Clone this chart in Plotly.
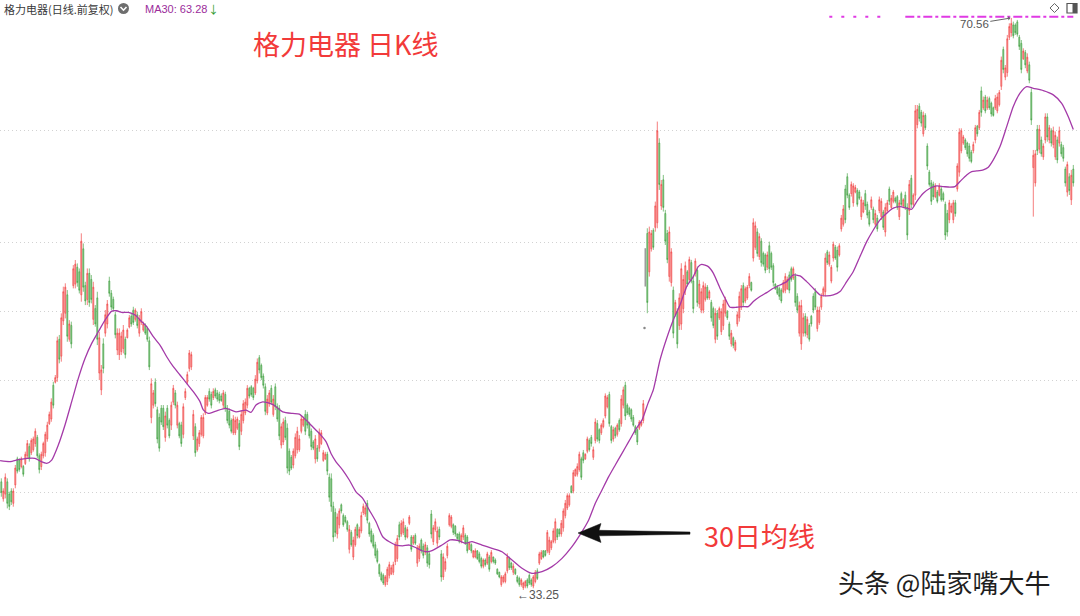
import plotly.graph_objects as go

W, H = 1080, 616
CJK = "Noto Sans CJK SC"
LAT = "Liberation Sans, Noto Sans CJK SC"

# ---------------- daily candles (前复权) ----------------
opens = [
    40.3, 39.2, 39.5, 40.3, 39.5, 39.7, 38.9, 40.1, 41.8, 41.7,
    41.3, 41.3, 41.5, 42.0, 42.6, 42.2, 42.4, 42.8, 43.2, 42.0,
    41.3, 42.0, 42.2, 43.1, 44.1, 44.4, 46.6, 46.8, 47.1, 49.6,
    48.5, 50.8, 51.3, 52.5, 49.6, 50.5, 53.1, 53.2, 54.3, 54.0,
    52.5, 55.5, 53.1, 52.2, 53.9, 53.5, 50.9, 51.6, 52.3, 47.4,
    46.3, 49.3, 50.0, 50.6, 53.4, 52.6, 52.2, 51.2, 48.9, 48.6,
    48.8, 49.0, 49.6, 49.7, 50.4, 51.1, 51.5, 50.9, 51.2, 50.0,
    50.7, 50.2, 50.5, 50.3, 49.5, 44.5, 45.3, 46.8, 45.0, 44.5,
    45.1, 45.1, 43.2, 45.1, 44.3, 44.0, 45.5, 46.1, 44.0, 44.1,
    44.0, 43.4, 45.8, 46.8, 47.7, 47.8, 43.3, 43.9, 42.4, 42.8,
    43.4, 43.3, 44.8, 45.3, 46.2, 46.0, 45.8, 46.3, 46.1,
    46.0, 45.9, 45.3, 46.0, 45.1, 44.9, 44.3, 43.5, 43.5, 43.8,
    44.1, 43.6, 44.3, 44.8, 45.3, 46.4, 46.5, 46.4, 46.1, 46.9,
    48.4, 47.9, 47.2, 46.5, 44.8, 45.4, 46.4, 44.7, 46.5, 45.2,
    45.1, 42.7, 42.9, 44.3, 43.8, 42.3, 41.9, 41.4, 42.0, 42.4,
    42.4, 43.6, 44.0, 44.7, 44.7, 44.1, 43.6, 42.9, 41.8, 42.5,
    42.5, 42.8, 41.7, 41.8, 42.1, 40.6, 40.5, 38.7, 38.3, 36.9,
    37.5, 38.8, 38.1, 38.0, 37.7, 35.9, 37.0, 35.4, 36.2, 37.5,
    36.7, 37.1, 38.3, 38.2, 38.9, 37.6, 37.1, 36.8, 36.2, 35.8,
    34.9, 34.3, 34.2, 33.6, 33.8, 34.2, 34.3, 34.4, 35.1, 35.3,
    37.5, 36.9, 37.0, 37.3, 36.7, 37.6, 36.7, 36.3, 36.8, 35.0,
    35.3, 36.5, 36.1, 35.7, 36.0, 35.6, 38.2, 36.4, 37.2,
    36.3, 37.2, 35.6, 34.1, 34.6, 35.5, 37.5, 37.4, 37.5, 37.4,
    36.9, 36.9, 36.4, 36.7, 36.8, 36.7, 35.9, 36.2, 35.4, 35.4,
    35.8, 35.6, 35.3, 34.8, 35.2, 35.0, 35.4, 35.1, 35.4, 35.2,
    34.6, 34.4, 33.6, 33.8, 33.8, 34.5, 35.3, 35.0, 34.4, 34.6,
    34.1, 34.0, 33.6, 33.4, 33.5, 33.9, 34.2, 33.9, 33.5, 33.8,
    34.5, 35.0, 35.3, 35.8, 35.8, 35.8, 35.7, 36.0, 36.4, 36.5,
    37.2, 37.2, 36.9, 37.3, 38.1, 38.6, 38.8, 40.0, 39.7, 40.7,
    40.8, 41.1, 41.8, 42.2, 41.8, 42.3, 43.0, 43.2, 41.9, 43.0,
    44.1, 43.7, 43.5, 43.9, 44.6, 45.2, 46.0, 43.9, 43.1, 43.8,
    43.4, 44.3, 44.1, 45.3, 46.6, 45.3, 45.1, 45.0, 44.5, 43.9,
    43.7, 43.8, 44.0, 44.3,
    55.3,
    56.5, 54.0, 55.5, 56.7, 56.9, 57.2, 62.4, 58.3, 60.0, 57.8,
    56.5, 53.7, 53.3, 52.8, 51.2, 51.4, 50.5, 50.6, 51.6, 52.8,
    54.0, 53.5, 54.6, 53.4, 53.9, 54.1, 51.9, 51.5, 51.5, 52.2,
    53.0, 52.3, 52.0, 51.6, 49.6, 51.3, 51.0, 50.1, 50.5, 51.3,
    51.4, 50.6, 49.3, 49.7, 48.9, 50.6, 51.0, 51.7, 53.1, 52.1,
    52.3, 53.1, 53.3, 54.9, 55.6, 56.6, 55.0, 56.0, 55.2, 55.1,
    54.3, 55.7, 55.2, 54.4, 53.2, 53.0, 52.9,
    52.8, 52.7, 52.8, 52.9, 53.8, 54.2, 53.6, 53.7, 52.4, 50.0,
    49.3, 50.0, 51.1, 49.9, 50.5, 51.1, 52.4, 52.7, 50.3, 50.7,
    51.7, 52.5, 52.7, 55.3, 54.5, 53.4, 54.9, 55.6, 55.4, 55.1,
    56.8, 57.1, 59.4, 60.2, 59.0, 59.1, 58.5, 59.2, 59.3, 59.2,
    57.6, 57.9,
    59.1, 58.4, 57.9, 58.2, 58.1, 57.1, 57.5, 58.0, 57.6, 57.9,
    56.6, 58.0, 59.4, 58.2, 58.6, 58.8, 58.9, 57.6, 59.1, 58.3,
    59.0, 58.2, 58.0, 60.1, 58.4, 59.0, 63.6, 64.8, 64.4, 63.0,
    64.2, 62.2, 60.5, 59.8, 59.7, 58.9, 59.2, 59.0, 59.4, 59.1,
    58.4, 57.8, 57.4, 57.9, 57.4, 58.5, 59.4, 60.5, 61.9, 62.4,
    62.6, 62.4, 62.2, 61.8, 61.9, 62.6, 63.5, 63.4, 65.8, 64.7,
    65.4, 64.7, 65.3, 65.0, 64.7, 64.7, 64.5, 64.9, 66.1, 68.5,
    66.7, 67.0, 69.3, 69.6, 70.1, 70.1, 70.3, 69.3, 68.9, 67.9,
    68.3, 67.1, 67.5, 65.7, 60.8, 59.8, 63.3, 62.0, 62.6, 61.5,
    62.6, 64.1, 62.6, 63.2, 62.3, 61.5, 62.6, 62.4, 62.3, 62.1,
    60.7, 59.2, 60.2, 58.7, 60.7,
]

highs = [
    40.53, 39.88, 40.85, 40.53, 39.66, 39.88, 39.88, 41.40, 41.94, 41.83,
    41.94, 41.40, 42.27, 43.03, 42.81, 43.14, 43.25, 43.79, 43.36, 42.16,
    42.27, 42.92, 43.57, 44.22, 44.88, 45.75, 46.83, 47.27, 49.77, 49.88,
    51.29, 53.03, 53.25, 52.81, 50.85, 50.75, 54.44, 54.77, 54.55, 54.22,
    56.51, 55.85, 53.35, 54.22, 54.22, 53.79, 53.35, 51.83, 52.70, 50.09,
    47.92, 49.66, 51.51, 52.16, 53.68, 52.81, 52.38, 51.40, 50.31, 50.31,
    50.09, 50.53, 49.77, 50.31, 51.18, 51.29, 51.72, 51.62, 51.40, 51.18,
    51.62, 50.75, 50.64, 50.42, 49.77, 47.05, 46.29, 47.05, 45.20, 44.77,
    45.31, 45.31, 44.88, 45.31, 44.44, 45.53, 46.62, 46.29, 45.53, 44.22,
    44.22, 45.42, 46.40, 47.49, 48.90, 48.79, 44.99, 44.12, 43.25, 43.68,
    44.66, 44.77, 45.96, 45.96, 46.40, 46.18, 46.40, 46.44, 46.29,
    46.18, 46.07, 46.29, 46.18, 45.31, 45.09, 44.44, 44.65, 44.55, 44.55,
    44.33, 44.98, 45.63, 45.74, 46.61, 46.50, 46.61, 46.50, 47.26, 48.35,
    48.57, 48.02, 47.37, 46.72, 45.96, 46.29, 46.61, 45.96, 46.72, 45.42,
    45.31, 44.11, 44.44, 44.55, 44.11, 42.48, 42.05, 42.48, 43.46, 43.89,
    43.35, 44.65, 44.55, 44.98, 44.87, 44.22, 43.78, 43.02, 43.35, 42.70,
    43.78, 43.68, 42.37, 42.26, 42.26, 40.85, 40.85, 39.00, 38.57, 38.24,
    38.57, 38.89, 38.24, 38.13, 37.80, 37.48, 37.15, 36.72, 37.37, 37.59,
    37.37, 38.35, 38.89, 38.78, 39.11, 37.70, 37.26, 36.94, 36.39, 35.96,
    34.98, 34.44, 34.33, 34.22, 34.76, 35.09, 34.87, 35.09, 36.39, 36.83,
    37.70, 37.80, 37.91, 37.48, 37.37, 38.13, 36.83, 36.83, 36.94, 36.18,
    36.28, 36.61, 36.28, 36.39, 36.18, 35.74, 38.46, 37.48, 37.91,
    37.38, 37.38, 35.85, 35.64, 35.31, 36.29, 38.25, 38.14, 37.59, 37.48,
    36.94, 37.05, 36.94, 37.48, 36.94, 36.83, 36.40, 36.29, 35.85, 35.96,
    35.85, 35.74, 35.42, 35.31, 35.31, 35.74, 35.53, 35.85, 35.42, 35.31,
    34.66, 34.44, 34.22, 34.22, 34.44, 35.64, 35.42, 35.09, 34.98, 34.66,
    34.22, 34.12, 34.01, 33.79, 33.90, 34.01, 34.33, 34.01, 34.22, 34.55,
    34.66, 35.74, 35.85, 35.85, 35.85, 37.16, 36.72, 36.51, 37.27, 37.92,
    37.27, 37.27, 37.81, 38.57, 39.12, 39.55, 39.55, 40.09, 41.07, 41.18,
    41.51, 42.27, 41.94, 42.38, 42.16, 43.25, 43.14, 43.36, 42.60, 44.44,
    44.33, 43.79, 44.12, 44.44, 46.07, 45.96, 46.18, 44.01, 43.90, 43.90,
    44.12, 44.44, 45.96, 46.51, 46.83, 45.42, 45.20, 45.09, 44.66, 44.01,
    43.79, 44.33, 44.33, 45.64,
    55.54,
    56.84, 56.95, 56.73, 56.84, 58.58, 63.80, 62.71, 59.99, 60.32, 58.04,
    56.73, 56.95, 55.54, 53.04, 52.17, 51.62, 52.60, 54.56, 53.80, 54.67,
    54.12, 54.99, 54.78, 53.69, 54.88, 54.34, 53.47, 52.93, 53.36, 53.25,
    53.14, 52.82, 52.17, 51.73, 51.62, 51.51, 51.73, 51.62, 52.17, 52.38,
    51.51, 50.75, 50.21, 49.78, 49.56, 51.41, 52.71, 53.14, 53.30, 53.04,
    53.14, 53.91, 53.36, 57.49, 57.28, 56.84, 56.51, 56.19, 55.32, 55.21,
    55.32, 55.97, 55.32, 54.56, 53.25, 53.14, 53.04,
    52.93, 53.47, 53.91, 53.69, 54.02, 54.34, 54.34, 53.91, 52.60, 52.06,
    52.17, 51.30, 51.30, 51.08, 50.65, 51.19, 52.60, 52.93, 51.73, 51.73,
    52.60, 53.04, 55.21, 55.43, 55.32, 54.45, 55.97, 55.75, 55.65, 55.86,
    57.71, 58.36, 59.67, 60.43, 59.12, 59.89, 59.78, 59.67, 59.45, 59.34,
    58.91, 58.69,
    59.34, 58.58, 58.04, 58.91, 58.25, 58.04, 57.71, 58.91, 58.80, 58.04,
    58.47, 58.69, 59.56, 59.01, 59.34, 58.91, 59.01, 58.69, 59.23, 58.80,
    59.23, 58.47, 59.99, 60.32, 59.12, 64.88, 64.88, 64.99, 64.56, 64.45,
    64.34, 62.38, 60.65, 59.99, 59.88, 59.78, 59.34, 59.78, 59.56, 59.23,
    58.58, 58.04, 58.69, 58.47, 58.69, 58.69, 61.08, 63.36, 63.36, 62.93,
    62.71, 62.49, 62.38, 61.95, 62.49, 63.58, 63.58, 64.56, 66.08, 65.43,
    65.54, 65.43, 65.43, 65.10, 64.78, 65.54, 65.65, 65.86, 68.04, 68.69,
    67.49, 69.45, 70.21, 70.56, 70.32, 70.21, 70.43, 69.45, 69.12, 68.58,
    68.47, 68.25, 67.71, 65.97, 61.95, 61.95, 63.58, 63.58, 62.82, 62.38,
    64.34, 64.34, 63.58, 63.36, 63.47, 63.15, 62.82, 63.47, 62.49, 62.28,
    60.86, 61.19, 60.43, 60.65, 60.97,
]

lows = [
    39.33, 39.01, 39.22, 38.57, 38.46, 38.79, 38.68, 39.88, 40.85, 40.96,
    41.18, 40.64, 41.40, 41.83, 41.62, 42.05, 42.27, 42.59, 41.83, 40.85,
    41.07, 41.83, 41.94, 42.92, 44.01, 44.22, 45.09, 46.72, 46.83, 48.03,
    48.14, 50.53, 50.96, 49.44, 49.44, 49.01, 52.92, 52.92, 53.03, 52.59,
    52.05, 52.70, 51.83, 51.83, 51.72, 51.94, 50.53, 50.42, 49.22, 46.94,
    45.96, 47.38, 49.77, 50.31, 52.38, 51.51, 51.40, 49.66, 48.57, 48.25,
    48.57, 48.68, 48.35, 49.66, 50.31, 50.42, 50.53, 50.75, 50.31, 49.77,
    50.53, 50.09, 49.88, 49.44, 47.59, 44.12, 45.09, 45.20, 42.81, 42.27,
    44.01, 43.68, 42.92, 43.79, 43.14, 43.68, 45.31, 45.09, 43.79, 43.14,
    42.59, 43.14, 45.64, 46.62, 47.49, 47.59, 43.03, 41.94, 42.27, 42.59,
    43.25, 43.14, 44.66, 45.20, 45.53, 45.09, 45.64, 45.75, 45.53,
    45.42, 45.52, 45.09, 44.87, 44.11, 43.79, 43.46, 43.35, 43.35, 43.68,
    42.37, 43.35, 44.11, 44.65, 45.09, 45.74, 45.85, 45.63, 45.96, 46.72,
    47.37, 46.94, 46.39, 44.65, 44.65, 45.20, 45.31, 44.55, 44.98, 44.22,
    43.02, 42.48, 42.70, 43.02, 40.85, 40.74, 41.07, 41.18, 41.83, 42.15,
    42.26, 43.46, 43.89, 43.35, 43.78, 43.13, 42.37, 42.37, 41.50, 41.61,
    42.26, 42.70, 41.61, 41.72, 40.74, 39.00, 38.35, 36.39, 36.72, 36.61,
    37.26, 38.24, 37.37, 37.59, 37.05, 35.63, 36.07, 35.20, 36.07, 36.61,
    36.61, 36.94, 38.13, 38.02, 37.59, 36.72, 36.28, 35.96, 35.31, 34.98,
    34.11, 33.79, 33.57, 33.46, 33.57, 34.00, 34.22, 34.22, 34.87, 35.09,
    36.50, 36.72, 36.83, 36.50, 36.61, 37.48, 35.74, 36.18, 36.18, 34.76,
    35.09, 35.63, 35.31, 35.52, 34.76, 34.65, 36.61, 36.18, 37.05,
    36.07, 36.51, 33.79, 33.90, 34.44, 35.31, 37.38, 37.27, 36.83, 36.72,
    36.51, 36.29, 36.29, 36.51, 36.18, 35.64, 35.85, 35.64, 35.31, 35.31,
    35.20, 34.98, 34.66, 34.66, 34.77, 34.88, 34.44, 34.98, 34.98, 34.88,
    34.22, 34.01, 33.46, 33.68, 33.68, 34.33, 34.55, 34.55, 34.22, 34.22,
    33.68, 33.46, 33.46, 33.25, 33.36, 33.36, 33.57, 33.46, 33.36, 33.68,
    33.90, 34.88, 35.20, 35.31, 35.42, 35.64, 35.53, 35.85, 36.29, 36.29,
    36.51, 36.72, 36.72, 37.05, 37.92, 38.46, 38.68, 39.55, 39.55, 40.64,
    40.64, 40.96, 40.42, 41.51, 41.73, 42.16, 42.27, 42.60, 41.73, 42.81,
    42.92, 42.81, 43.36, 43.79, 44.44, 45.09, 43.90, 42.81, 42.92, 43.14,
    43.25, 43.57, 43.90, 45.09, 44.33, 44.66, 44.55, 44.22, 43.90, 43.36,
    42.70, 43.68, 43.90, 44.12,
    53.04,
    51.30, 53.69, 55.32, 55.43, 56.62, 56.84, 59.34, 58.04, 57.93, 55.75,
    54.56, 53.36, 53.04, 49.67, 51.08, 49.01, 50.21, 50.21, 51.30, 52.49,
    53.04, 53.36, 53.25, 51.30, 53.69, 51.73, 51.62, 51.30, 51.30, 52.06,
    52.17, 52.17, 50.75, 50.32, 49.34, 49.56, 50.86, 49.88, 50.21, 51.08,
    50.86, 49.56, 49.12, 49.01, 48.80, 50.43, 50.75, 51.51, 51.73, 51.95,
    52.17, 52.93, 52.71, 54.67, 55.43, 54.99, 54.78, 54.34, 54.34, 53.91,
    54.12, 53.91, 54.12, 53.04, 52.82, 52.49, 52.17,
    51.95, 52.60, 52.60, 52.82, 52.60, 53.36, 53.47, 51.73, 51.30, 49.78,
    48.91, 49.78, 49.78, 49.67, 49.45, 50.43, 51.30, 51.52, 50.10, 50.54,
    51.52, 52.39, 52.39, 54.45, 54.34, 53.25, 54.67, 54.78, 54.02, 54.99,
    56.62, 56.95, 57.17, 58.80, 58.04, 58.91, 58.25, 59.12, 58.25, 58.69,
    57.39, 57.82,
    58.04, 57.49, 56.95, 58.04, 57.17, 56.95, 56.62, 57.82, 57.38, 56.73,
    56.30, 57.82, 58.36, 58.04, 58.47, 58.47, 58.04, 57.38, 58.25, 58.15,
    58.04, 56.08, 57.71, 58.15, 58.25, 58.69, 63.36, 63.80, 63.47, 62.82,
    63.25, 60.65, 59.56, 58.36, 58.69, 58.80, 58.47, 58.91, 58.58, 58.58,
    56.08, 56.30, 57.17, 57.82, 57.17, 57.60, 59.23, 60.21, 61.73, 62.28,
    61.95, 61.51, 61.19, 61.08, 61.73, 62.38, 62.82, 63.25, 64.12, 64.56,
    64.34, 64.56, 64.56, 64.12, 64.12, 64.56, 64.34, 64.78, 65.86, 66.95,
    66.50, 66.73, 69.12, 69.34, 69.23, 69.45, 69.34, 68.47, 66.95, 67.82,
    67.28, 66.95, 66.30, 63.58, 57.60, 59.56, 61.62, 61.73, 61.51, 61.30,
    62.38, 62.49, 62.38, 62.17, 62.06, 61.30, 61.08, 62.17, 61.51, 61.19,
    59.56, 58.91, 59.01, 58.36, 59.56,
]

closes = [
    39.6, 39.7, 40.6, 38.9, 38.7, 39.0, 39.7, 41.2, 41.0, 41.1,
    41.8, 40.8, 42.1, 42.8, 41.8, 43.0, 43.1, 43.6, 42.0, 41.1,
    42.1, 42.8, 43.4, 44.0, 44.7, 45.5, 45.3, 47.1, 49.5, 48.3,
    51.0, 52.7, 53.0, 49.8, 50.6, 49.3, 54.2, 54.5, 53.3, 52.8,
    56.0, 53.0, 52.1, 53.9, 52.0, 52.2, 53.0, 50.6, 49.6, 49.7,
    47.6, 47.7, 51.2, 51.9, 52.6, 51.7, 51.6, 49.9, 50.0, 50.0,
    49.8, 50.2, 48.6, 50.2, 51.0, 50.6, 50.7, 51.5, 50.5, 50.9,
    51.4, 50.6, 50.0, 49.6, 47.8, 46.7, 46.1, 45.4, 43.1, 42.5,
    44.2, 43.9, 44.6, 44.0, 43.3, 45.3, 46.4, 45.3, 45.3, 43.3,
    42.8, 45.2, 46.2, 47.3, 48.7, 48.6, 44.7, 42.2, 43.1, 43.5,
    44.5, 44.5, 45.8, 45.8, 45.7, 45.3, 46.2, 45.9, 45.7,
    45.6, 45.6, 46.1, 45.1, 44.3, 44.0, 43.6, 44.4, 44.3, 44.4,
    42.6, 44.7, 45.4, 45.5, 46.4, 45.9, 46.0, 45.8, 47.0, 48.1,
    47.6, 47.1, 46.6, 44.9, 45.7, 46.1, 45.5, 45.7, 45.2, 44.4,
    43.3, 43.9, 44.2, 43.2, 41.2, 41.0, 41.2, 42.3, 43.2, 43.6,
    43.1, 44.4, 44.4, 43.6, 44.0, 43.3, 42.6, 42.5, 43.1, 41.8,
    43.5, 43.5, 42.2, 42.1, 41.0, 39.3, 38.7, 36.7, 37.0, 38.0,
    38.4, 38.4, 37.5, 37.7, 37.2, 37.2, 36.2, 36.5, 37.2, 36.8,
    37.2, 38.1, 38.7, 38.6, 37.8, 36.9, 36.4, 36.1, 35.5, 35.1,
    34.3, 33.9, 33.7, 34.1, 34.6, 34.9, 34.7, 34.9, 36.2, 36.6,
    36.7, 37.6, 37.7, 36.7, 37.2, 38.0, 35.9, 36.7, 36.3, 36.0,
    36.1, 35.8, 35.5, 36.2, 35.0, 34.9, 36.9, 37.3, 37.7,
    37.1, 36.7, 34.1, 35.4, 35.1, 36.1, 38.1, 38.0, 37.0, 36.9,
    36.6, 36.4, 36.8, 37.3, 36.3, 35.8, 36.3, 35.8, 35.8, 35.8,
    35.3, 35.1, 34.8, 35.2, 34.9, 35.6, 34.6, 35.7, 35.1, 35.0,
    34.3, 34.1, 34.1, 34.1, 34.3, 35.4, 34.7, 34.7, 34.8, 34.3,
    33.8, 33.6, 33.9, 33.7, 33.8, 33.5, 33.7, 33.6, 34.1, 34.4,
    34.0, 35.6, 35.7, 35.4, 35.5, 37.0, 36.5, 36.4, 37.1, 37.7,
    36.7, 36.9, 37.6, 38.4, 38.9, 39.4, 39.4, 39.6, 40.9, 41.1,
    41.3, 42.1, 40.6, 41.7, 42.1, 43.1, 42.4, 42.8, 42.4, 44.2,
    43.1, 43.0, 44.0, 44.3, 45.9, 45.8, 44.1, 43.0, 43.7, 43.3,
    44.0, 43.7, 45.7, 46.3, 44.6, 44.8, 44.7, 44.4, 44.0, 43.5,
    42.9, 44.2, 44.2, 45.4,
    53.3,
    52.0, 56.6, 56.5, 55.6, 58.3, 63.2, 59.7, 59.7, 58.2, 56.0,
    54.8, 56.6, 55.3, 50.0, 52.0, 49.3, 52.3, 54.2, 53.5, 54.4,
    53.2, 54.8, 53.4, 51.6, 54.7, 52.0, 53.2, 52.7, 53.1, 53.0,
    52.3, 52.7, 51.0, 50.5, 51.3, 49.8, 51.6, 51.4, 51.9, 52.2,
    51.0, 49.8, 50.0, 49.2, 49.4, 51.2, 52.4, 52.9, 52.0, 52.9,
    53.0, 53.7, 52.8, 57.2, 57.0, 55.2, 56.3, 54.6, 54.5, 54.1,
    55.1, 54.2, 54.3, 53.3, 52.9, 52.6, 52.4,
    52.1, 53.3, 53.7, 53.5, 52.8, 53.5, 54.2, 52.0, 51.5, 51.8,
    51.8, 51.0, 50.0, 50.9, 49.6, 50.6, 51.5, 51.7, 51.5, 51.5,
    52.4, 52.9, 54.9, 54.6, 55.1, 54.3, 55.8, 54.9, 54.3, 55.7,
    57.5, 58.1, 57.4, 59.0, 58.2, 59.7, 59.6, 59.5, 58.4, 58.8,
    58.7, 58.5,
    58.3, 57.7, 57.1, 58.7, 57.4, 57.8, 56.8, 58.7, 58.6, 56.9,
    58.2, 58.5, 58.6, 58.8, 59.2, 58.6, 58.2, 58.5, 58.4, 58.7,
    58.2, 56.4, 59.7, 58.4, 59.0, 64.5, 64.6, 64.0, 63.7, 64.2,
    63.4, 60.9, 59.7, 58.6, 58.9, 59.6, 58.6, 59.6, 58.7, 58.7,
    56.4, 56.6, 58.5, 58.3, 58.5, 57.8, 60.9, 63.1, 63.2, 62.8,
    62.1, 61.7, 61.4, 61.2, 62.3, 63.4, 63.0, 64.4, 64.4, 65.2,
    64.5, 65.2, 64.7, 64.3, 64.2, 65.3, 65.4, 65.7, 67.8, 67.2,
    67.3, 69.2, 70.0, 70.2, 69.4, 69.6, 69.5, 68.7, 67.2, 68.4,
    67.5, 68.0, 66.5, 63.9, 61.6, 61.7, 61.9, 63.3, 61.7, 62.2,
    64.1, 62.8, 63.4, 62.4, 63.2, 62.9, 61.3, 63.2, 61.7, 61.4,
    59.8, 61.0, 59.3, 60.3, 59.8,
]

# suspension-resume day drawn in grey, plus a small grey event marker
gray_days = [322]
event_day = [321.6]
event_price = [50.33]

# ---------------- MA30 ----------------
ma30_day = [
    -0.6, 4.35, 9.35, 16.85, 19.35, 22.7, 25.2, 28.5, 31.85, 35.2,
    38.5, 41.85, 45.2, 48.5, 51.85, 55.2, 57.7, 60.2, 63.5, 66.85,
    70.2, 72.7, 76.0, 79.35, 82.7, 86.0, 89.35, 92.7, 96.0, 99.35,
    101.0, 103.5, 107.35,
    112.35, 117.35, 122.35, 124.85, 127.35, 130.7, 135.7, 140.7, 145.7, 149.0,
    152.35, 155.7, 159.0, 162.35, 164.85, 167.35, 170.7, 174.0, 177.35, 180.7,
    184.0, 187.35, 190.7, 194.0, 197.35, 200.7, 204.0, 207.35, 210.7, 213.2,
    215.35,
    220.35, 224.5, 228.7, 232.0, 235.35, 240.35, 245.35, 250.35, 255.35, 260.35,
    265.35, 270.35, 275.35, 280.35, 285.35, 290.35, 293.7, 297.0, 300.35, 303.7,
    307.0, 310.35, 313.7, 317.0, 320.35, 323.35,
    326.0, 329.35, 332.7, 336.0, 339.35, 342.7, 346.0, 348.5, 350.2, 353.5,
    356.0, 359.35, 361.85, 364.35, 367.7, 371.0, 373.5, 376.0, 379.35, 382.7,
    386.0, 389.35,
    392.7, 396.0, 399.35, 402.7, 406.0, 409.35, 412.7, 416.0, 419.35, 422.7,
    426.0, 429.35, 432.7, 436.0, 439.35, 442.7, 446.0, 449.35, 452.7, 455.2,
    457.7, 461.0, 464.35, 467.7, 471.0, 474.35, 476.85, 479.35, 482.7, 485.2,
    487.7, 491.0, 493.5, 496.0, 499.35, 502.7, 506.0, 509.35, 512.7, 516.0,
    521.0, 526.0, 530.2, 533.5, 536.0,
]
ma30_val = [
    41.68, 41.62, 41.77, 41.83, 41.66, 41.51, 41.72, 42.70, 44.01, 45.53,
    47.05, 48.35, 49.33, 50.09, 50.85, 51.44, 51.46, 51.35, 51.35, 51.18,
    50.75, 50.42, 49.77, 49.22, 48.46, 47.81, 47.27, 46.72, 46.18, 45.53,
    44.99, 44.77, 44.92,
    45.09, 44.87, 44.98, 44.83, 45.31, 45.52, 45.35, 44.87, 44.76, 44.72,
    44.33, 43.89, 43.46, 42.92, 42.15, 41.61, 41.07, 40.42, 39.65, 39.22,
    38.46, 37.70, 36.72, 36.39, 36.18, 36.13, 36.18, 36.00, 35.79, 35.74,
    35.81,
    36.18, 36.51, 36.46, 36.29, 36.40, 36.18, 35.96, 35.74, 35.20, 34.66,
    34.33, 34.44, 34.77, 35.31, 36.07, 37.05, 37.81, 38.90, 39.77, 40.64,
    41.40, 42.16, 42.92, 43.68, 44.33, 45.42,
    46.30, 48.25, 49.67, 50.86, 51.84, 53.04, 53.69, 54.34, 54.49, 54.34,
    53.91, 52.93, 52.28, 51.69, 51.69, 51.73, 51.73, 52.06, 52.39, 52.64,
    52.93, 53.14,
    53.36, 53.80, 53.73, 53.36, 52.93, 52.49, 52.43, 52.49, 52.71, 53.36,
    54.02, 55.00, 55.97, 56.73, 57.39, 57.82, 58.15, 58.25, 58.15, 58.08,
    58.58, 59.12, 59.45, 59.60, 59.56, 59.52, 59.56, 59.89, 60.32, 60.54,
    60.58, 60.65, 60.82, 61.30, 62.17, 63.47, 64.78, 65.65, 66.08, 65.97,
    65.82, 65.54, 64.99, 64.12, 63.28,
]

grid_levels = [39.6, 46.9, 51.4, 55.9, 63.2]
y_range = [31.55, 71.73]
x_range = [-0.65, 539.35]

# ---------------- helpers (pixel -> paper) ----------------
def px(x):
    return x / W

def py(y):
    return 1 - y / H

def path(points):
    s = "M " + " L ".join(f"{px(a):.5f},{py(b):.5f}" for a, b in points)
    return s + " Z"

days = list(range(len(closes)))
normal = [i for i in days if i not in gray_days]

fig = go.Figure()
fig.add_trace(go.Candlestick(
    x=normal,
    open=[opens[i] for i in normal],
    high=[highs[i] for i in normal],
    low=[lows[i] for i in normal],
    close=[closes[i] for i in normal],
    increasing=dict(line=dict(color="rgba(240,64,64,0.85)", width=0.8), fillcolor="#F8B0B0"),
    decreasing=dict(line=dict(color="rgba(56,156,56,0.8)", width=0.8), fillcolor="#9DD19D"),
    whiskerwidth=0,
    hoverinfo="skip",
    showlegend=False,
))

for i in gray_days:
    fig.add_trace(go.Scatter(x=[i, i], y=[lows[i], highs[i]], mode="lines",
                             line=dict(color="#9c9c9c", width=1.6),
                             hoverinfo="skip", showlegend=False))

fig.add_trace(go.Scatter(x=event_day, y=event_price, mode="markers",
                         marker=dict(size=2.5, color="#888888"),
                         hoverinfo="skip", showlegend=False))

fig.add_trace(go.Scatter(x=ma30_day, y=ma30_val, mode="lines",
                         line=dict(color="#A43AA8", width=1.3, shape="spline", smoothing=0.6),
                         hoverinfo="skip", showlegend=False))

peak_val = max(highs)
peak_day = highs.index(peak_val)
low_val = min(lows)
low_day = lows.index(low_val)

annotations = [
    dict(x=px(2), y=py(8.5), xref="paper", yref="paper", xanchor="left", yanchor="middle",
         text="格力电器(日线.前复权)", showarrow=False,
         font=dict(family=CJK, size=11, color="#3a3a3a")),
    dict(x=px(143), y=py(8.5), xref="paper", yref="paper", xanchor="left", yanchor="middle",
         text=f"MA30: {ma30_val[-1]:.2f}", showarrow=False,
         font=dict(family=LAT, size=11, color="#9B2C9B")),
    dict(x=px(206), y=py(8.5), xref="paper", yref="paper", xanchor="left", yanchor="middle",
         text="↓", showarrow=False, font=dict(family=CJK, size=11, color="#2E9B2E")),
    dict(x=px(251), y=py(44), xref="paper", yref="paper", xanchor="left", yanchor="middle",
         text="格力电器 日K线", showarrow=False,
         font=dict(family=CJK, size=27, color="#F23A3A")),
    dict(x=px(702), y=py(535), xref="paper", yref="paper", xanchor="left", yanchor="middle",
         text="30日均线", showarrow=False,
         font=dict(family=CJK, size=27, color="#F23A3A")),
    dict(x=px(836), y=py(581), xref="paper", yref="paper", xanchor="left", yanchor="middle",
         text="头条 @陆家嘴大牛", showarrow=False,
         font=dict(family=CJK, size=26, color="#1e1e1e")),
    dict(x=peak_day, y=peak_val, xref="x", yref="y", text=f"{peak_val:.2f}",
         showarrow=True, ax=-37, ay=6, axref="pixel", ayref="pixel",
         arrowhead=1, arrowsize=0.7, arrowwidth=1, arrowcolor="#666666", standoff=1,
         font=dict(family=LAT, size=11.5, color="#555555")),
    dict(x=low_day, y=low_val, xref="x", yref="y", xanchor="left", yanchor="top",
         xshift=-8, yshift=4, text=f"←{low_val:.2f}", showarrow=False,
         font=dict(family=LAT, size=12, color="#555555")),
]

shapes = [
    # dropdown circle next to the title
    dict(type="circle", xref="paper", yref="paper", x0=px(118), x1=px(129), y0=py(14), y1=py(3),
         fillcolor="#6e6e6e", line=dict(width=0)),
    dict(type="path", xref="paper", yref="paper",
         path=f"M {px(120.5)},{py(7.0)} L {px(123.5)},{py(10.2)} L {px(126.5)},{py(7.0)}",
         line=dict(color="white", width=1.6)),
    # black arrow pointing at the MA line
    dict(type="path", xref="paper", yref="paper",
         path=path([(578, 533), (601, 523.5), (599, 530.3), (690, 532), (690, 534.2),
                    (599, 535.8), (601, 542.5)]),
         fillcolor="#111111", line=dict(color="#111111", width=0.5)),
    # magenta high guide line
    dict(type="line", xref="x", yref="y", x0=414, x1=440, y0=70.64, y1=70.64,
         line=dict(color="#E03AE4", width=2, dash="3px,9px")),
    dict(type="line", xref="x", yref="y", x0=452, x1=536, y0=70.64, y1=70.64,
         line=dict(color="#E03AE4", width=2, dash="dashdot")),
    # top-right icons
    dict(type="path", xref="paper", yref="paper",
         path=path([(1054.5, 3.5), (1059, 8), (1054.5, 12.5), (1050, 8)]),
         line=dict(color="#666666", width=1), fillcolor="rgba(0,0,0,0)"),
    dict(type="rect", xref="paper", yref="paper", x0=px(1067), x1=px(1077), y0=py(13), y1=py(3.5),
         line=dict(color="#555555", width=1.2), fillcolor="rgba(0,0,0,0)"),
    dict(type="rect", xref="paper", yref="paper", x0=px(1072.5), x1=px(1077), y0=py(13), y1=py(3.5),
         line=dict(width=0), fillcolor="#555555"),
]

fig.update_layout(
    width=W, height=H, autosize=False,
    margin=dict(l=0, r=0, t=0, b=0, pad=0),
    paper_bgcolor="white", plot_bgcolor="white",
    showlegend=False,
    annotations=annotations,
    shapes=shapes,
    xaxis=dict(range=x_range, visible=True, showgrid=False, zeroline=False,
               showticklabels=False, ticks="", showline=False,
               rangeslider=dict(visible=False)),
    yaxis=dict(range=y_range, tickvals=grid_levels, showticklabels=False, ticks="",
               showgrid=True, gridcolor="#d2d2d2", griddash="1px,3px", gridwidth=1,
               zeroline=False, showline=False),
)

fig.write_html(
    "out.html",
    config={"displayModeBar": False, "staticPlot": True},
    post_script="document.body.style.margin='0';document.body.style.padding='0';",
)
